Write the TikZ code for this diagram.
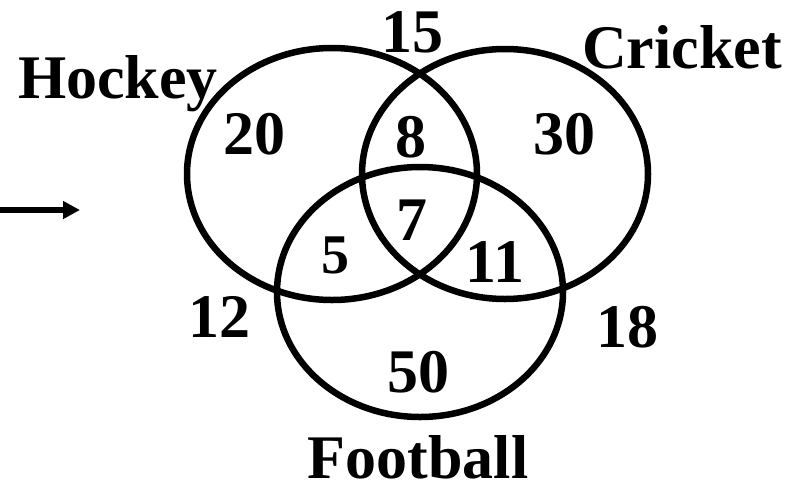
\documentclass[tikz,border=0pt]{standalone}
\usepackage{fontspec}
\setmainfont{Liberation Serif}
\usetikzlibrary{arrows.meta}

\begin{document}
\begin{tikzpicture}[x=1pt,y=-1pt,
        set/.style={line width=6.5pt},
        setname/.style={font=\fontsize{62}{70}\selectfont\bfseries,inner sep=0pt,anchor=base},
        count/.style={setname}]
        \useasboundingbox (0,0) rectangle (790,483);
        % the three sets
        \draw[set] (332,174) ellipse [x radius=145, y radius=126];
        \draw[set] (505,174) ellipse [x radius=143, y radius=125];
        \draw[set] (420,292) ellipse [x radius=143, y radius=125];

        \node[setname] (hockey) at (118,98) {Hockey};
        \node[setname] (cricket) at (682,68) {Cricket};
        \node[setname] (football) at (418,478) {Football};

        % counts in each region
        \foreach \name/\x/\y/\txt in {onlyh/254/154/20, hc/411/157/8, onlyc/564/154/30,
            hcf/412/240/7, cf/495/282/11, onlyf/418/392/50,
            top/412/52/15, left/219/337/12, right/627/347/18} {
            \node[count] (\name) at (\x,\y) {\txt};
        }
        \node[count,font=\fontsize{56}{64}\selectfont\bfseries] (hf) at (335,273) {5};

        \coordinate (arrowtail) at (0,210);
        \coordinate (arrowtip) at (80,210);
        \draw[line width=5.5pt,-{Triangle[length=17pt,width=17pt]}] (arrowtail) -- (arrowtip);
\end{tikzpicture}
\end{document}
